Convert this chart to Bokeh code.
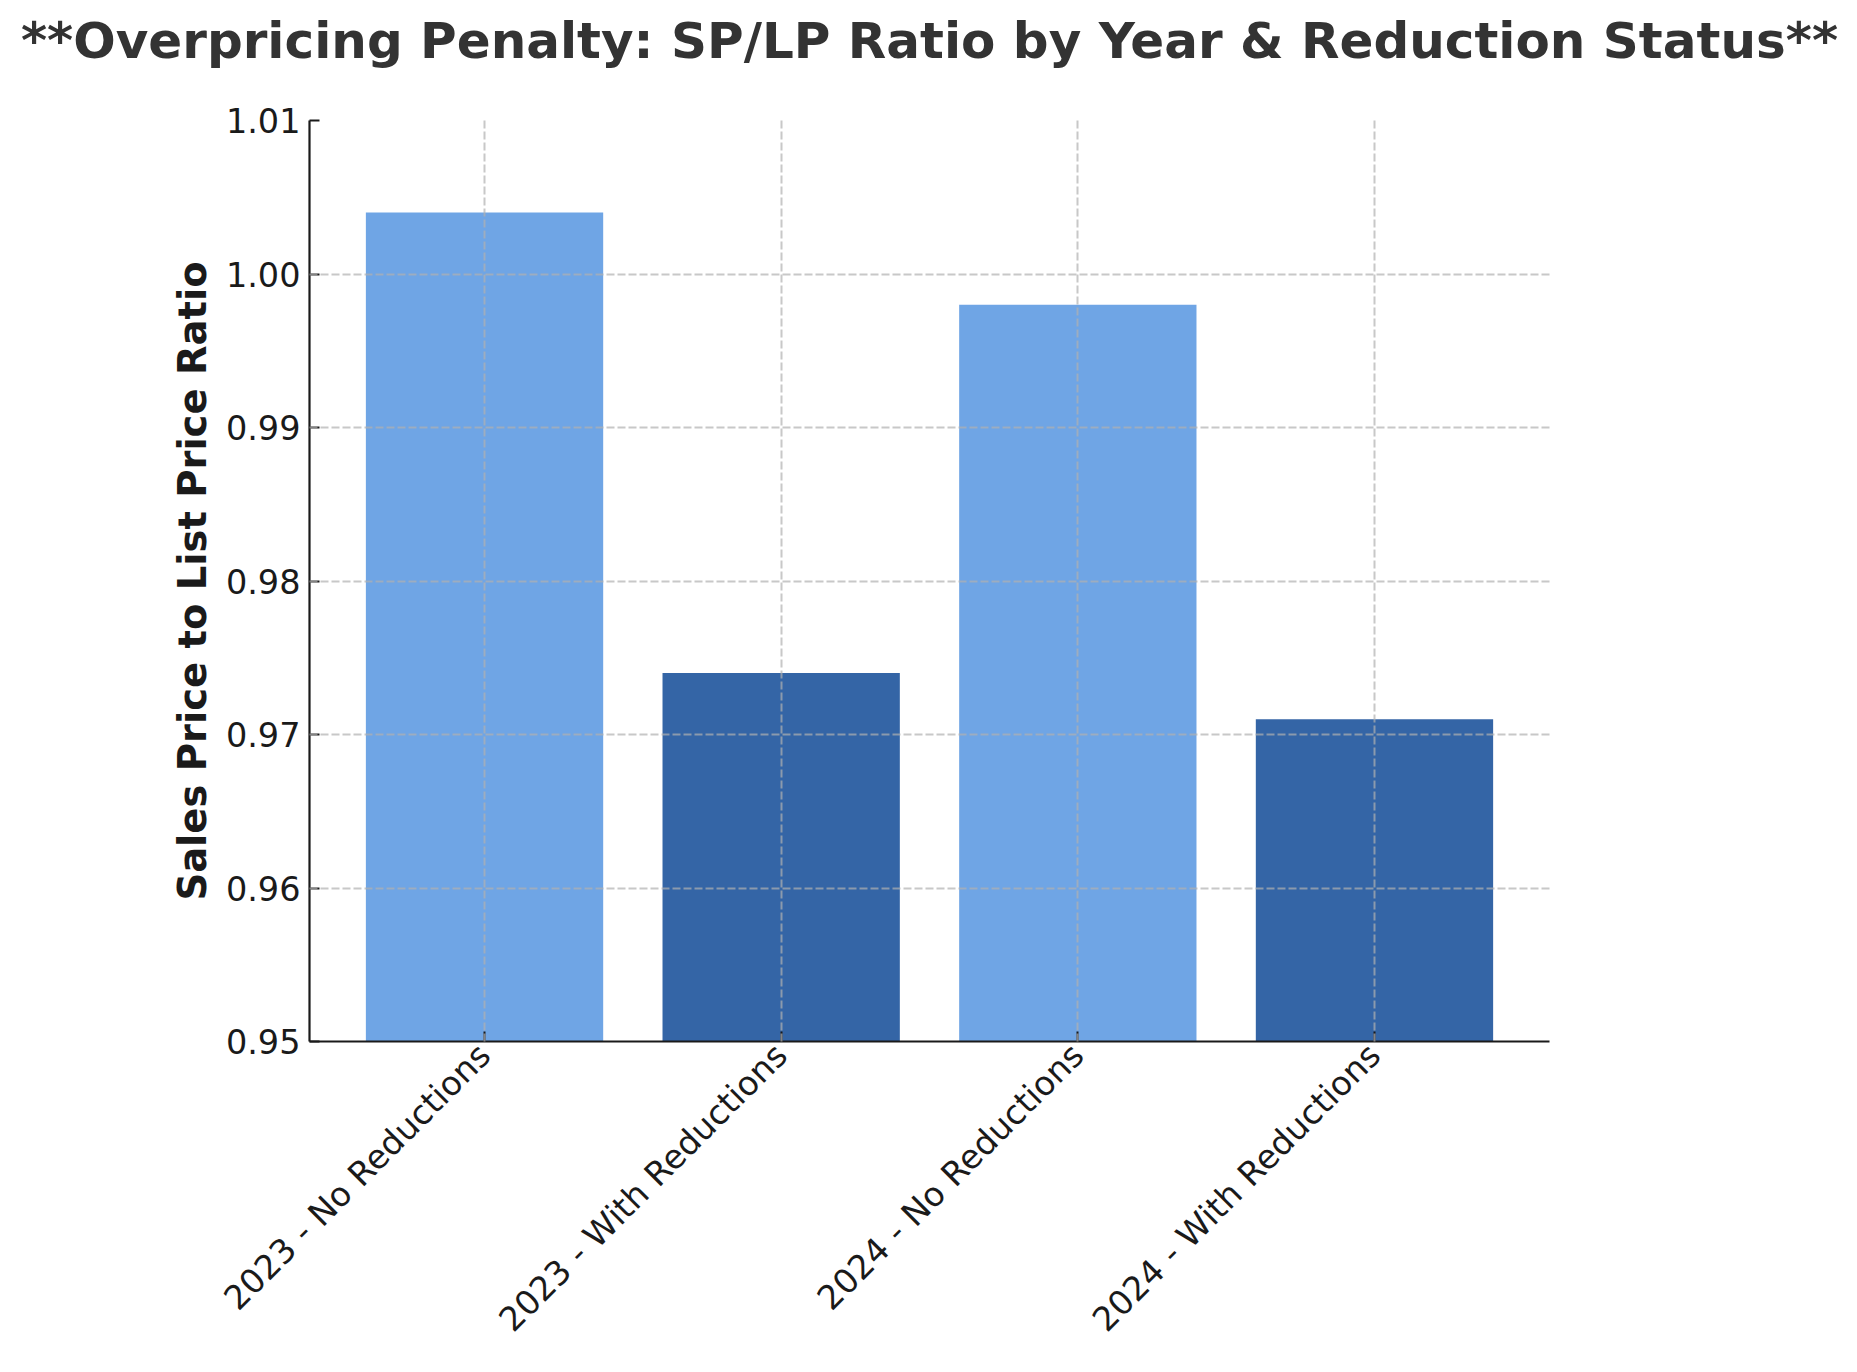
from bokeh.plotting import figure
from bokeh.models import Range1d, FixedTicker, Title, NumeralTickFormatter
from bokeh.embed import file_html
from bokeh.resources import INLINE
import math

categories = ["2023 - No Reductions", "2023 - With Reductions",
              "2024 - No Reductions", "2024 - With Reductions"]
ratios = [1.004, 0.974, 0.998, 0.971]
bar_colors = ["#6FA5E5", "#3465A6", "#6FA5E5", "#3465A6"]
y_ticks = [0.95, 0.96, 0.97, 0.98, 0.99, 1.00, 1.01]
y_min, y_max = 0.95, 1.01

title_text = "**Overpricing Penalty: SP/LP Ratio by Year & Reduction Status**"
y_label = "Sales Price to List Price Ratio"

FONT = "DejaVu Sans"
x_pos = list(range(len(categories)))

p = figure(width=1841, height=1356, output_backend="svg", toolbar_location=None,
           x_range=Range1d(-0.59, len(categories) - 1 + 0.59),
           y_range=Range1d(y_min, y_max),
           min_border_left=309, min_border_right=292,
           min_border_top=120, min_border_bottom=312)

# spacer between the frame and the title (closest to the frame)
p.add_layout(Title(text=" ", text_font_size="1px", standoff=39), "above")
# main title, stacked above the spacer
p.title = Title(text=title_text, align="center", text_font=FONT,
                text_font_size="50px", text_font_style="bold",
                text_color="#333333", standoff=18)

p.vbar(x=x_pos, top=ratios, bottom=y_min, width=0.8, color=bar_colors,
       line_color=None)

p.outline_line_color = None
p.background_fill_color = "white"
p.border_fill_color = "white"

# Axes
p.xaxis.ticker = FixedTicker(ticks=x_pos)
p.xaxis.major_label_overrides = {i: c for i, c in zip(x_pos, categories)}
p.xaxis.major_label_orientation = math.pi / 4
p.yaxis.ticker = FixedTicker(ticks=y_ticks)
p.yaxis.formatter = NumeralTickFormatter(format="0.00")
p.yaxis.axis_label = y_label

for ax in (p.xaxis, p.yaxis):
    ax.axis_line_color = "#1a1a1a"
    ax.axis_line_width = 2.2
    ax.major_tick_line_color = "#1a1a1a"
    ax.major_tick_line_width = 2
    ax.major_tick_in = 10
    ax.major_tick_out = 0
    ax.minor_tick_line_color = None
    ax.major_label_text_font = FONT
    ax.major_label_text_font_size = "33.5px"
    ax.major_label_text_color = "#1a1a1a"

p.yaxis.major_label_standoff = 9
p.xaxis.major_label_standoff = 8

p.yaxis.axis_label_text_font = FONT
p.yaxis.axis_label_text_font_size = "38.5px"
p.yaxis.axis_label_text_font_style = "bold"
p.yaxis.axis_label_text_color = "#1a1a1a"
p.yaxis.axis_label_standoff = 8

# Grid drawn above the bars
for g in (p.xgrid, p.ygrid):
    g.grid_line_color = "#b0b0b0"
    g.grid_line_alpha = 0.7
    g.grid_line_width = 2
    g.grid_line_dash = "8 3"
    g.level = "overlay"
p.xgrid.ticker = FixedTicker(ticks=x_pos)
p.ygrid.ticker = FixedTicker(ticks=y_ticks)

open("out.html", "w").write(file_html(p, INLINE))
